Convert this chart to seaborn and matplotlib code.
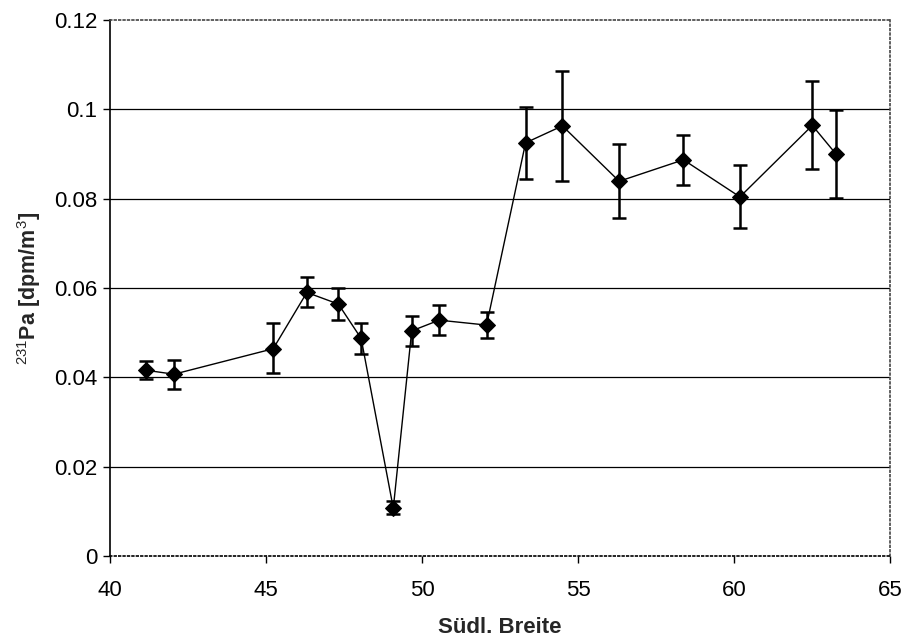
import numpy as np
import pandas as pd
import seaborn as sns
import matplotlib.pyplot as plt

breite = [41.14, 42.05, 45.23, 46.31, 47.32, 48.05, 49.08, 49.67, 50.55, 52.07,
          53.32, 54.50, 56.32, 58.38, 60.19, 62.51, 63.28]
pa231 = [0.0416, 0.0407, 0.0464, 0.0590, 0.0564, 0.0487, 0.0107, 0.0504, 0.0528, 0.0517,
         0.0925, 0.0963, 0.0839, 0.0887, 0.0804, 0.0964, 0.0899]
err_oben = [0.0437, 0.0439, 0.0521, 0.0624, 0.0601, 0.0522, 0.0123, 0.0538, 0.0561, 0.0547,
            0.1006, 0.1086, 0.0922, 0.0943, 0.0875, 0.1064, 0.0998]
err_unten = [0.0397, 0.0375, 0.0410, 0.0558, 0.0528, 0.0452, 0.0093, 0.0470, 0.0495, 0.0487,
             0.0845, 0.0839, 0.0756, 0.0831, 0.0735, 0.0866, 0.0802]

df = pd.DataFrame({'breite': breite, 'pa': pa231})
yerr = np.array([np.array(pa231) - np.array(err_unten), np.array(err_oben) - np.array(pa231)])

sns.set_style("white")
plt.rcParams['font.family'] = ['Liberation Sans', 'DejaVu Sans']
plt.rcParams['mathtext.fontset'] = 'custom'
plt.rcParams['mathtext.rm'] = 'Liberation Sans'
plt.rcParams['mathtext.bf'] = 'Liberation Sans:bold'

fig = plt.figure(figsize=(9.06, 6.38), dpi=100)
ax = fig.add_axes([110 / 906, 1 - 556 / 638, 780 / 906, 536 / 638])

# Gitterlinien
for g in [0.02, 0.04, 0.06, 0.08, 0.1]:
    ax.axhline(g, color='black', lw=0.9, zorder=0)

ax.errorbar(df['breite'], df['pa'], yerr=yerr, fmt='none', ecolor='black',
            elinewidth=1.8, capsize=5, capthick=1.8, zorder=2)
sns.lineplot(data=df, x='breite', y='pa', color='black', lw=1, marker='D',
             markersize=8, markeredgecolor='black', sort=False, ax=ax, zorder=3)

ax.set_xlim(40, 65)
ax.set_ylim(0, 0.12)
ax.set_xticks([40, 45, 50, 55, 60, 65])
ax.set_yticks([0, 0.02, 0.04, 0.06, 0.08, 0.1, 0.12])
ax.set_yticklabels(['0', '0.02', '0.04', '0.06', '0.08', '0.1', '0.12'])
ax.tick_params(axis='both', direction='out', length=5, width=1, labelsize=16,
               left=True, bottom=True, colors='black')
ax.tick_params(axis='y', pad=4)
ax.tick_params(axis='x', pad=12)

for s in ax.spines.values():
    s.set_linestyle(':')
    s.set_color('#444444')
    s.set_linewidth(1.2)
ax.spines['left'].set_linestyle('-')
ax.spines['left'].set_color('black')
ax.spines['bottom'].set_color('black')

ax.set_xlabel('Südl. Breite', fontsize=16, fontweight='bold', labelpad=12)
ax.set_ylabel(r'$^{231}$Pa [dpm/m$^3$]', fontsize=15.5, fontweight='bold', labelpad=8)

fig.savefig('out.png', dpi=100)
